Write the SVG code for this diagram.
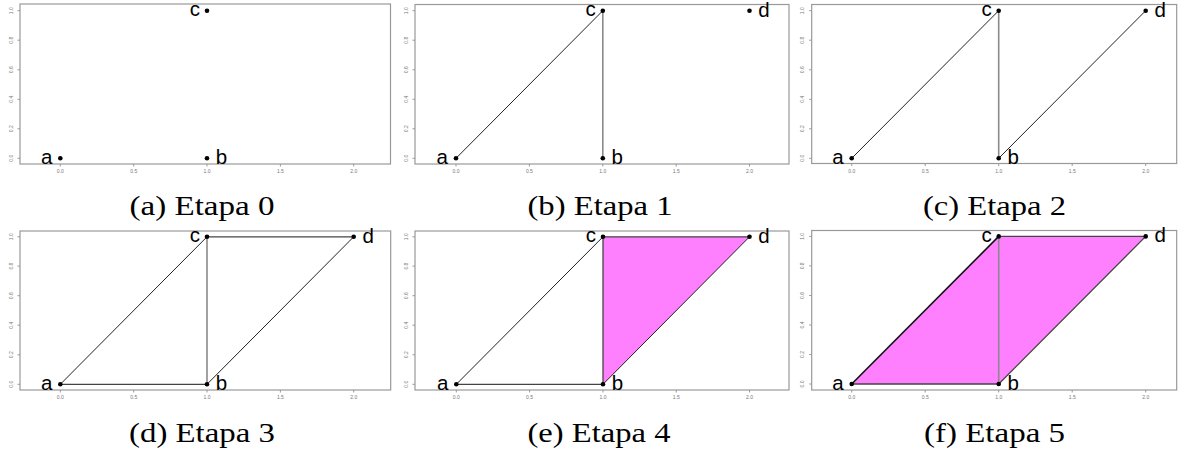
<svg xmlns="http://www.w3.org/2000/svg" width="1184" height="455" viewBox="0 0 1184 455">
<style>
.box{fill:none;stroke:#999;stroke-width:1.2}
.tk{stroke:#999;stroke-width:1}
.tl{font-family:"Liberation Sans",Arial,sans-serif;font-size:5px;fill:#777;text-anchor:middle}
.pt{fill:#000}
.lb{font-family:"Liberation Sans",Arial,sans-serif;font-size:20.5px;fill:#000}
.e{text-anchor:end}
.cap{font-family:"Liberation Serif","Times New Roman",serif;font-size:27px;fill:#000;text-anchor:middle}
.ln{stroke:#222;stroke-width:1;fill:none}
.lg{stroke:#8a8a8a;stroke-width:1.6;fill:none}
.ld{stroke:#444;stroke-width:1.3;fill:none}
.lk{stroke:#111;stroke-width:1.6;fill:none}
.fill{fill:#FF80FF;stroke:none}
</style>
<rect width="1184" height="455" fill="#fff"/>

<!-- Panel (a) -->
<g id="panel-a">
<rect class="box" x="20" y="4" width="370.5" height="160"/>
<g id="axes-a">
<path class="tk" d="M60.3 164v2.5M133.7 164v2.5M207 164v2.5M280.4 164v2.5M353.7 164v2.5M20 158.3h-2.5M20 128.8h-2.5M20 99.3h-2.5M20 69.8h-2.5M20 40.2h-2.5M20 10.7h-2.5"/>
<text class="tl" x="60.3" y="173">0.0</text><text class="tl" x="133.7" y="173">0.5</text><text class="tl" x="207" y="173">1.0</text><text class="tl" x="280.4" y="173">1.5</text><text class="tl" x="353.7" y="173">2.0</text>
<text class="tl" transform="translate(13 158.3) rotate(-90)">0.0</text><text class="tl" transform="translate(13 128.8) rotate(-90)">0.2</text><text class="tl" transform="translate(13 99.3) rotate(-90)">0.4</text><text class="tl" transform="translate(13 69.8) rotate(-90)">0.6</text><text class="tl" transform="translate(13 40.2) rotate(-90)">0.8</text><text class="tl" transform="translate(13 10.7) rotate(-90)">1.0</text>
</g>
<g id="a-node-a"><circle class="pt" cx="60.3" cy="158.3" r="2.3"/><text class="lb e" x="52.3" y="164.3">a</text></g>
<g id="a-node-b"><circle class="pt" cx="207" cy="158.3" r="2.3"/><text class="lb" x="215.7" y="164.3">b</text></g>
<g id="a-node-c"><circle class="pt" cx="207" cy="10.7" r="2.3"/><text class="lb e" x="200" y="16.2">c</text></g>
<text class="cap" x="202" y="215" textLength="145" lengthAdjust="spacingAndGlyphs">(a) Etapa 0</text>
</g>

<!-- Panel (b) -->
<g id="panel-b">
<rect class="box" x="415" y="4.5" width="374" height="159.5"/>
<g id="axes-b">
<path class="tk" d="M456 164v2.5M529.4 164v2.5M602.8 164v2.5M676.2 164v2.5M749.5 164v2.5M415 158.3h-2.5M415 128.8h-2.5M415 99.3h-2.5M415 69.8h-2.5M415 40.2h-2.5M415 10.7h-2.5"/>
<text class="tl" x="456" y="173">0.0</text><text class="tl" x="529.4" y="173">0.5</text><text class="tl" x="602.8" y="173">1.0</text><text class="tl" x="676.2" y="173">1.5</text><text class="tl" x="749.5" y="173">2.0</text>
<text class="tl" transform="translate(408 158.3) rotate(-90)">0.0</text><text class="tl" transform="translate(408 128.8) rotate(-90)">0.2</text><text class="tl" transform="translate(408 99.3) rotate(-90)">0.4</text><text class="tl" transform="translate(408 69.8) rotate(-90)">0.6</text><text class="tl" transform="translate(408 40.2) rotate(-90)">0.8</text><text class="tl" transform="translate(408 10.7) rotate(-90)">1.0</text>
</g>
<g id="b-connectors">
<line class="ln" x1="456" y1="158.3" x2="602.8" y2="10.7"/>
<line class="lg" x1="602.8" y1="10.7" x2="602.8" y2="158.3"/>
</g>
<g id="b-node-a"><circle class="pt" cx="456" cy="158.3" r="2.3"/><text class="lb e" x="448" y="164.3">a</text></g>
<g id="b-node-b"><circle class="pt" cx="602.8" cy="158.3" r="2.3"/><text class="lb" x="611.5" y="164.3">b</text></g>
<g id="b-node-c"><circle class="pt" cx="602.8" cy="10.7" r="2.3"/><text class="lb e" x="595.8" y="16.2">c</text></g>
<g id="b-node-d"><circle class="pt" cx="749.5" cy="10.7" r="2.3"/><text class="lb" x="758.2" y="16.7">d</text></g>
<text class="cap" x="600" y="215" textLength="145" lengthAdjust="spacingAndGlyphs">(b) Etapa 1</text>
</g>

<!-- Panel (c) -->
<g id="panel-c">
<rect class="box" x="811.7" y="4.5" width="365" height="159"/>
<g id="axes-c">
<path class="tk" d="M851.7 163.5v2.5M925.2 163.5v2.5M998.7 163.5v2.5M1072.2 163.5v2.5M1145.7 163.5v2.5M811.7 158.3h-2.5M811.7 128.8h-2.5M811.7 99.3h-2.5M811.7 69.8h-2.5M811.7 40.2h-2.5M811.7 10.7h-2.5"/>
<text class="tl" x="851.7" y="172.5">0.0</text><text class="tl" x="925.2" y="172.5">0.5</text><text class="tl" x="998.7" y="172.5">1.0</text><text class="tl" x="1072.2" y="172.5">1.5</text><text class="tl" x="1145.7" y="172.5">2.0</text>
<text class="tl" transform="translate(804 158.3) rotate(-90)">0.0</text><text class="tl" transform="translate(804 128.8) rotate(-90)">0.2</text><text class="tl" transform="translate(804 99.3) rotate(-90)">0.4</text><text class="tl" transform="translate(804 69.8) rotate(-90)">0.6</text><text class="tl" transform="translate(804 40.2) rotate(-90)">0.8</text><text class="tl" transform="translate(804 10.7) rotate(-90)">1.0</text>
</g>
<g id="c-connectors">
<line class="ln" x1="851.7" y1="158.3" x2="998.7" y2="10.7"/>
<line class="lg" x1="998.7" y1="10.7" x2="998.7" y2="158.3"/>
<line class="ln" x1="998.7" y1="158.3" x2="1145.7" y2="10.7"/>
</g>
<g id="c-node-a"><circle class="pt" cx="851.7" cy="158.3" r="2.3"/><text class="lb e" x="843.7" y="164.3">a</text></g>
<g id="c-node-b"><circle class="pt" cx="998.7" cy="158.3" r="2.3"/><text class="lb" x="1007.4" y="164.3">b</text></g>
<g id="c-node-c"><circle class="pt" cx="998.7" cy="10.7" r="2.3"/><text class="lb e" x="991.7" y="16.2">c</text></g>
<g id="c-node-d"><circle class="pt" cx="1145.7" cy="10.7" r="2.3"/><text class="lb" x="1154.4" y="16.7">d</text></g>
<text class="cap" x="994.5" y="215" textLength="143" lengthAdjust="spacingAndGlyphs">(c) Etapa 2</text>
</g>

<!-- Panel (d) -->
<g id="panel-d">
<rect class="box" x="20" y="231" width="370.7" height="159"/>
<g id="axes-d">
<path class="tk" d="M60.3 390v2.5M133.7 390v2.5M207 390v2.5M280.4 390v2.5M353.7 390v2.5M20 384.3h-2.5M20 354.8h-2.5M20 325.2h-2.5M20 295.7h-2.5M20 266.1h-2.5M20 236.8h-2.5"/>
<text class="tl" x="60.3" y="399">0.0</text><text class="tl" x="133.7" y="399">0.5</text><text class="tl" x="207" y="399">1.0</text><text class="tl" x="280.4" y="399">1.5</text><text class="tl" x="353.7" y="399">2.0</text>
<text class="tl" transform="translate(13 384.3) rotate(-90)">0.0</text><text class="tl" transform="translate(13 354.8) rotate(-90)">0.2</text><text class="tl" transform="translate(13 325.2) rotate(-90)">0.4</text><text class="tl" transform="translate(13 295.7) rotate(-90)">0.6</text><text class="tl" transform="translate(13 266.1) rotate(-90)">0.8</text><text class="tl" transform="translate(13 236.8) rotate(-90)">1.0</text>
</g>
<g id="d-connectors">
<line class="ln" x1="60.3" y1="384.3" x2="207" y2="236.8"/>
<line class="lg" x1="207" y1="236.8" x2="207" y2="384.3"/>
<line class="ln" x1="207" y1="384.3" x2="353.7" y2="236.8"/>
<line class="ld" x1="207" y1="236.8" x2="353.7" y2="236.8"/>
<line class="ld" x1="60.3" y1="384.3" x2="207" y2="384.3"/>
</g>
<g id="d-node-a"><circle class="pt" cx="60.3" cy="384.3" r="2.3"/><text class="lb e" x="52.3" y="390.3">a</text></g>
<g id="d-node-b"><circle class="pt" cx="207" cy="384.3" r="2.3"/><text class="lb" x="215.7" y="390.3">b</text></g>
<g id="d-node-c"><circle class="pt" cx="207" cy="236.8" r="2.3"/><text class="lb e" x="200" y="242.3">c</text></g>
<g id="d-node-d"><circle class="pt" cx="353.7" cy="236.8" r="2.3"/><text class="lb" x="362.4" y="242.8">d</text></g>
<text class="cap" x="202" y="442" textLength="146" lengthAdjust="spacingAndGlyphs">(d) Etapa 3</text>
</g>

<!-- Panel (e) -->
<g id="panel-e">
<rect class="box" x="415" y="231" width="374" height="159"/>
<g id="axes-e">
<path class="tk" d="M456.3 390v2.5M529.6 390v2.5M603 390v2.5M676.2 390v2.5M749.5 390v2.5M415 384.3h-2.5M415 354.8h-2.5M415 325.2h-2.5M415 295.7h-2.5M415 266.1h-2.5M415 236.8h-2.5"/>
<text class="tl" x="456.3" y="399">0.0</text><text class="tl" x="529.6" y="399">0.5</text><text class="tl" x="603" y="399">1.0</text><text class="tl" x="676.2" y="399">1.5</text><text class="tl" x="749.5" y="399">2.0</text>
<text class="tl" transform="translate(408 384.3) rotate(-90)">0.0</text><text class="tl" transform="translate(408 354.8) rotate(-90)">0.2</text><text class="tl" transform="translate(408 325.2) rotate(-90)">0.4</text><text class="tl" transform="translate(408 295.7) rotate(-90)">0.6</text><text class="tl" transform="translate(408 266.1) rotate(-90)">0.8</text><text class="tl" transform="translate(408 236.8) rotate(-90)">1.0</text>
</g>
<g id="e-connectors">
<polygon class="fill" points="603,236.8 749.5,236.8 603,384.3"/>
<line class="ln" x1="456.3" y1="384.3" x2="603" y2="236.8"/>
<line class="ld" x1="603" y1="236.8" x2="603" y2="384.3"/>
<line class="ln" x1="603" y1="384.3" x2="749.5" y2="236.8"/>
<line class="ld" x1="603" y1="236.8" x2="749.5" y2="236.8"/>
<line class="ld" x1="456.3" y1="384.3" x2="603" y2="384.3"/>
</g>
<g id="e-node-a"><circle class="pt" cx="456.3" cy="384.3" r="2.3"/><text class="lb e" x="448.3" y="390.3">a</text></g>
<g id="e-node-b"><circle class="pt" cx="603" cy="384.3" r="2.3"/><text class="lb" x="611.7" y="390.3">b</text></g>
<g id="e-node-c"><circle class="pt" cx="603" cy="236.8" r="2.3"/><text class="lb e" x="596" y="242.3">c</text></g>
<g id="e-node-d"><circle class="pt" cx="749.5" cy="236.8" r="2.3"/><text class="lb" x="758.2" y="242.8">d</text></g>
<text class="cap" x="599" y="442" textLength="143" lengthAdjust="spacingAndGlyphs">(e) Etapa 4</text>
</g>

<!-- Panel (f) -->
<g id="panel-f">
<rect class="box" x="811.7" y="230.5" width="365" height="159.5"/>
<g id="axes-f">
<path class="tk" d="M851.7 390v2.5M925.2 390v2.5M998.7 390v2.5M1072.2 390v2.5M1145.7 390v2.5M811.7 384h-2.5M811.7 354.5h-2.5M811.7 325h-2.5M811.7 295.5h-2.5M811.7 265.9h-2.5M811.7 236.4h-2.5"/>
<text class="tl" x="851.7" y="399">0.0</text><text class="tl" x="925.2" y="399">0.5</text><text class="tl" x="998.7" y="399">1.0</text><text class="tl" x="1072.2" y="399">1.5</text><text class="tl" x="1145.7" y="399">2.0</text>
<text class="tl" transform="translate(804 384) rotate(-90)">0.0</text><text class="tl" transform="translate(804 354.5) rotate(-90)">0.2</text><text class="tl" transform="translate(804 325) rotate(-90)">0.4</text><text class="tl" transform="translate(804 295.5) rotate(-90)">0.6</text><text class="tl" transform="translate(804 265.9) rotate(-90)">0.8</text><text class="tl" transform="translate(804 236.4) rotate(-90)">1.0</text>
</g>
<g id="f-connectors">
<polygon class="fill" points="851.7,384 998.7,236.4 1145.7,236.4 998.7,384"/>
<line class="lk" x1="851.7" y1="384" x2="998.7" y2="236.4"/>
<line class="lg" x1="998.7" y1="236.4" x2="998.7" y2="384"/>
<line class="ld" x1="998.7" y1="384" x2="1145.7" y2="236.4"/>
<line class="ld" x1="998.7" y1="236.4" x2="1145.7" y2="236.4"/>
<line class="ld" x1="851.7" y1="384" x2="998.7" y2="384"/>
</g>
<g id="f-node-a"><circle class="pt" cx="851.7" cy="384" r="2.3"/><text class="lb e" x="843.7" y="390">a</text></g>
<g id="f-node-b"><circle class="pt" cx="998.7" cy="384" r="2.3"/><text class="lb" x="1007.4" y="390">b</text></g>
<g id="f-node-c"><circle class="pt" cx="998.7" cy="236.4" r="2.3"/><text class="lb e" x="991.7" y="241.9">c</text></g>
<g id="f-node-d"><circle class="pt" cx="1145.7" cy="236.4" r="2.3"/><text class="lb" x="1154.4" y="242.4">d</text></g>
<text class="cap" x="994.5" y="442" textLength="141" lengthAdjust="spacingAndGlyphs">(f) Etapa 5</text>
</g>
</svg>
